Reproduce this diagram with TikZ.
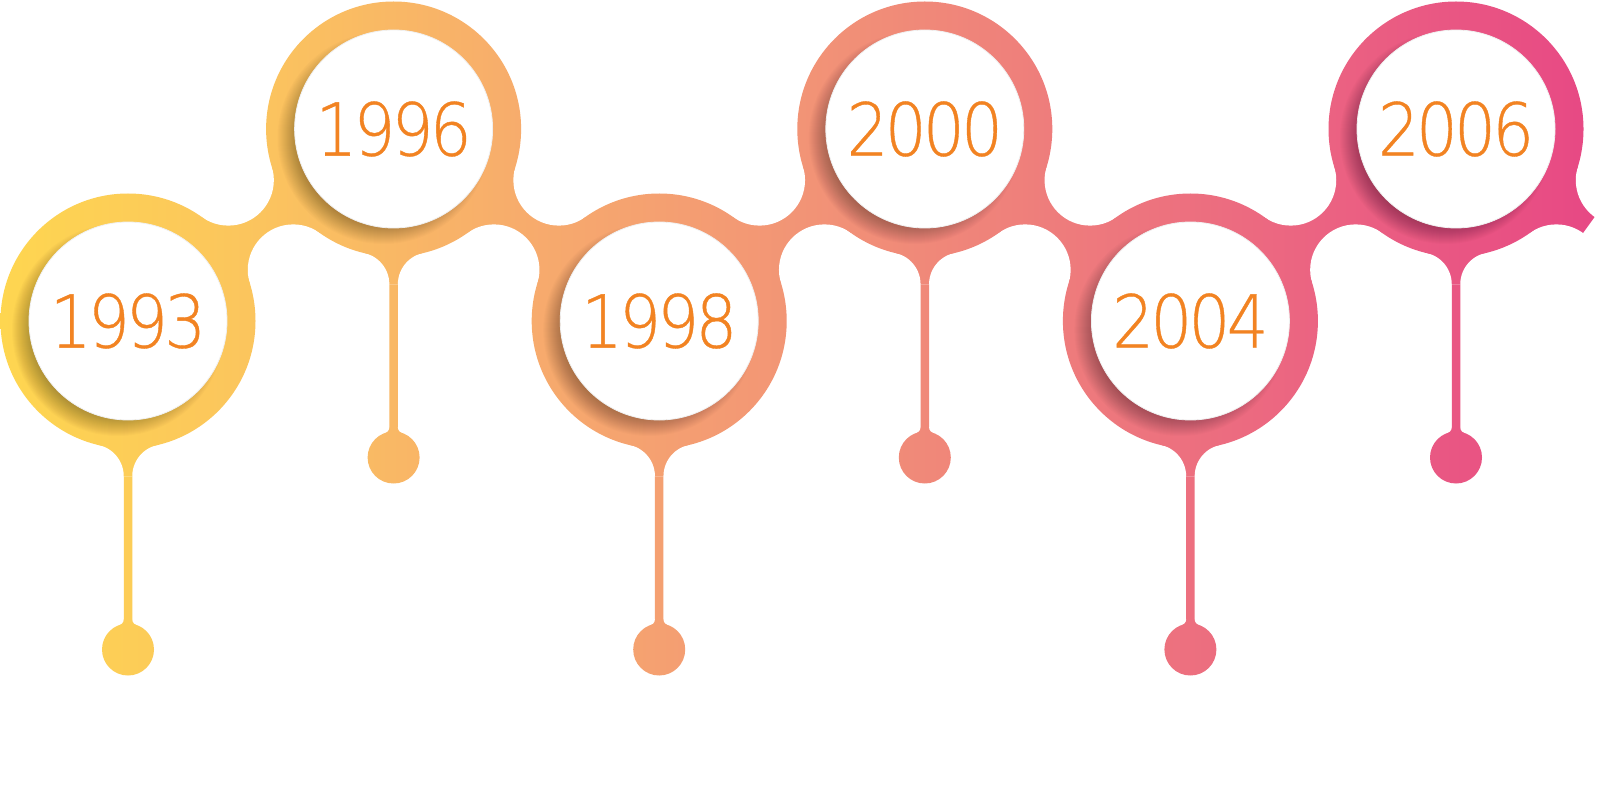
\documentclass[tikz,border=0pt]{standalone}
\usepackage{fontspec}
\newfontfamily\yearfont{DejaVuSans-ExtraLight}[Extension=.ttf,FakeStretch=0.9,FakeBold=0.5,LetterSpace=-5]
\definecolor{yearorange}{RGB}{242,131,34}
\definecolor{ga}{RGB}{254,214,80}
\definecolor{gb}{RGB}{251,196,94}
\definecolor{gc}{RGB}{247,172,108}
\definecolor{gd}{RGB}{242,148,118}
\definecolor{ge}{RGB}{238,124,124}
\definecolor{gf}{RGB}{235,98,130}
\definecolor{gg}{RGB}{231,72,132}
\pgfdeclarehorizontalshading{tl}{100bp}{color(0bp)=(ga); color(25bp)=(ga); color(33.13bp)=(gb); color(41.27bp)=(gc); color(50.03bp)=(gd); color(58.17bp)=(ge); color(66.61bp)=(gf); color(75bp)=(gg); color(100bp)=(gg)}
\begin{document}
\begin{tikzpicture}[x=1pt,y=-1pt,
  yearcirc/.style={circle, fill=white, draw=black!6, line width=0.8pt,
    minimum size=198pt, inner sep=0pt,
    font=\yearfont\fontsize{73}{80}\selectfont, text=yearorange},
  shadowstep/.style={fill=black, opacity=0.017},
  cutout/.style={fill=white}]
\useasboundingbox (0,0) rectangle (1598,794);
\fill[white] (0,0) rectangle (1598,794);
% layer 1: necks and flares
\begin{scope}
\clip \foreach \x/\y in {128/321,393.6/129,659.2/321,924.8/129,1190.4/321,1456/129}
  { (\x,\y) -- (\x-36.25,\y+155.3) -- (\x+36.25,\y+155.3) -- cycle
    (\x,\y+328.5) -- (\x-10.25,\y+298.2) -- (\x+10.25,\y+298.2) -- cycle }
  (128,321) -- (228.34,180.1) -- (393.6,129) -- (293.26,269.9) -- cycle
  (393.6,129) -- (558.86,180.1) -- (659.2,321) -- (493.94,269.9) -- cycle
  (659.2,321) -- (759.54,180.1) -- (924.8,129) -- (824.46,269.9) -- cycle
  (924.8,129) -- (1090.06,180.1) -- (1190.4,321) -- (1025.14,269.9) -- cycle
  (1190.4,321) -- (1290.74,180.1) -- (1456,129) -- (1355.66,269.9) -- cycle
  (1456,129) -- (1621.26,180.1) -- (1556.34,269.9) -- cycle;
\shade[shading=tl] (0,0) rectangle (1598,794);
\end{scope}
% layer 2: white cut-outs
\foreach \ux/\lx in {228.34/293.26,558.86/493.94,759.54/824.46,1090.06/1025.14,1290.74/1355.66,1621.26/1556.34}
  { \fill[cutout] (\ux,180.1) circle (45.5); \fill[cutout] (\lx,269.9) circle (45.5); }
\foreach \x/\y in {128/321,393.6/129,659.2/321,924.8/129,1190.4/321,1456/129}
  { \fill[cutout] (\x-36.25,\y+155.3) circle (32) (\x+36.25,\y+155.3) circle (32);
    \fill[cutout] (\x-10.25,\y+298.2) circle (6) (\x+10.25,\y+298.2) circle (6); }
% layer 3: rings, stems, dots
\begin{scope}
\clip \foreach \x/\y in {128/321,393.6/129,659.2/321,924.8/129,1190.4/321,1456/129}
  { (\x,\y) circle (127.5)
    (\x-4.25,\y+155.3) rectangle (\x+4.25,\y+298.2)
    (\x,\y+328.5) circle (26) };
\shade[shading=tl] (0,0) rectangle (1598,794);
\end{scope}
% soft shadows of the discs
\foreach \x/\y in {128/321,393.6/129,659.2/321,924.8/129,1190.4/321,1456/129}
  { \foreach \k in {0,...,20} { \fill[shadowstep] (\x-10,\y+9) circle (106-\k); } }
% layer 4: year discs
\node[yearcirc] (y1993) at (128,321) {1993};
\node[yearcirc] (y1996) at (393.6,129) {1996};
\node[yearcirc] (y1998) at (659.2,321) {1998};
\node[yearcirc] (y2000) at (924.8,129) {2000};
\node[yearcirc] (y2004) at (1190.4,321) {2004};
\node[yearcirc] (y2006) at (1456,129) {2006};
\end{tikzpicture}
\end{document}
